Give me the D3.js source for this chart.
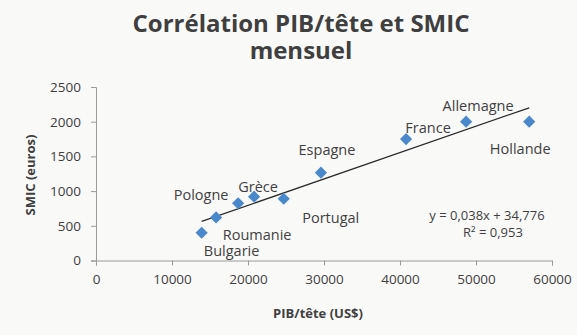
<!DOCTYPE html>
<html>
<head>
<meta charset="utf-8">
<script src="https://cdn.jsdelivr.net/npm/d3@7"></script>
<style>
  html, body { margin: 0; padding: 0; background: #f9f9f8; }
  svg { display: block; }
</style>
</head>
<body>
<svg id="chart" width="577" height="335"></svg>
<script>
// Countries, GDP per head (US$) and monthly minimum wage (euros)
const countries = ["Bulgarie", "Roumanie", "Pologne", "Grèce", "Portugal", "Espagne", "France", "Allemagne", "Hollande"];
const pibTete   = [13900, 15800, 18700, 20800, 24700, 29600, 40800, 48700, 57000];
const smic      = [400, 620, 825, 920, 890, 1265, 1750, 2000, 2000];

const xTicks = [0, 10000, 20000, 30000, 40000, 50000, 60000];
const yTicks = [0, 500, 1000, 1500, 2000, 2500];

// Linear trend line shown on the chart
const trendSlope = 0.038;
const trendIntercept = 34.776;
const trendLabel = "y = 0,038x + 34,776";
const r2Label = "R² = 0,953";

const titleLines = ["Corrélation PIB/tête et SMIC", "mensuel"];
const xTitle = "PIB/tête (US$)";
const yTitle = "SMIC (euros)";

// Label offsets (dx, dy) relative to each point, in pixels
const labelOffsets = {
  "Bulgarie":  [30, 23],
  "Roumanie":  [41, 23],
  "Pologne":   [-37, -3],
  "Grèce":     [4, -5],
  "Portugal":  [47, 24],
  "Espagne":   [6, -18],
  "France":    [22, -6],
  "Allemagne": [12, -11],
  "Hollande":  [-9, 32]
};

const svg = d3.select("#chart");
const font = "'Open Sans', Lato, sans-serif";
const textColor = "#3f3f3f";

const x = d3.scaleLinear().domain([0, 60000]).range([96, 552]);
const y = d3.scaleLinear().domain([0, 2500]).range([260.5, 87]);

// Title: one text element, one tspan per line
svg.append("text")
  .attr("text-anchor", "middle")
  .attr("font-family", font)
  .attr("font-weight", 700)
  .attr("font-size", 24)
  .attr("fill", textColor)
  .selectAll("tspan").data(titleLines).join("tspan")
  .attr("x", 301)
  .attr("y", (d, i) => 32 + i * 27)
  .text(d => d);

// Axes
const axisColor = "#9a9a9a";
const xAxis = svg.append("g")
  .attr("transform", `translate(0,${y(0)})`)
  .call(d3.axisBottom(x).tickValues(xTicks).tickSize(5).tickPadding(9).tickFormat(d3.format("d")));
const yAxis = svg.append("g")
  .attr("transform", `translate(${x(0)},0)`)
  .call(d3.axisLeft(y).tickValues(yTicks).tickSize(5).tickPadding(10).tickFormat(d3.format("d")));

[xAxis, yAxis].forEach(g => {
  g.select(".domain").attr("stroke", axisColor).attr("stroke-width", 1);
  g.selectAll(".tick line").attr("stroke", axisColor);
  g.selectAll(".tick text")
    .attr("font-family", font)
    .attr("font-size", 13.5)
    .attr("fill", textColor);
});

// Axis titles
svg.append("text")
  .attr("x", 318).attr("y", 318)
  .attr("text-anchor", "middle")
  .attr("font-family", font).attr("font-weight", 700).attr("font-size", 13)
  .attr("fill", textColor)
  .text(xTitle);

svg.append("text")
  .attr("transform", `translate(35,175) rotate(-90)`)
  .attr("text-anchor", "middle")
  .attr("font-family", font).attr("font-weight", 700).attr("font-size", 13)
  .attr("fill", textColor)
  .text(yTitle);

// Trend line over the range of the data
const xMin = d3.min(pibTete), xMax = d3.max(pibTete);
svg.append("line")
  .attr("x1", x(xMin)).attr("y1", y(trendSlope * xMin + trendIntercept))
  .attr("x2", x(xMax)).attr("y2", y(trendSlope * xMax + trendIntercept))
  .attr("stroke", "#2a2a2a")
  .attr("stroke-width", 1.3);

// Diamond markers
const data = countries.map((c, i) => ({ name: c, px: pibTete[i], sm: smic[i] }));
svg.append("g").selectAll("path").data(data).join("path")
  .attr("transform", d => `translate(${x(d.px)},${y(d.sm)})`)
  .attr("d", d3.symbol(d3.symbolDiamond2, 95)())
  .attr("fill", "#4a88cc");

// Country labels
svg.append("g").selectAll("text").data(data).join("text")
  .attr("x", d => x(d.px) + labelOffsets[d.name][0])
  .attr("y", d => y(d.sm) + labelOffsets[d.name][1])
  .attr("text-anchor", "middle")
  .attr("font-family", font)
  .attr("font-size", 14.5)
  .attr("fill", textColor)
  .text(d => d.name);

// Trend equation
svg.append("text")
  .attr("x", 487).attr("y", 220)
  .attr("text-anchor", "middle")
  .attr("font-family", font).attr("font-size", 13)
  .attr("fill", textColor)
  .text(trendLabel);
svg.append("text")
  .attr("x", 493).attr("y", 237)
  .attr("text-anchor", "middle")
  .attr("font-family", font).attr("font-size", 13)
  .attr("fill", textColor)
  .text(r2Label);
</script>
</body>
</html>
